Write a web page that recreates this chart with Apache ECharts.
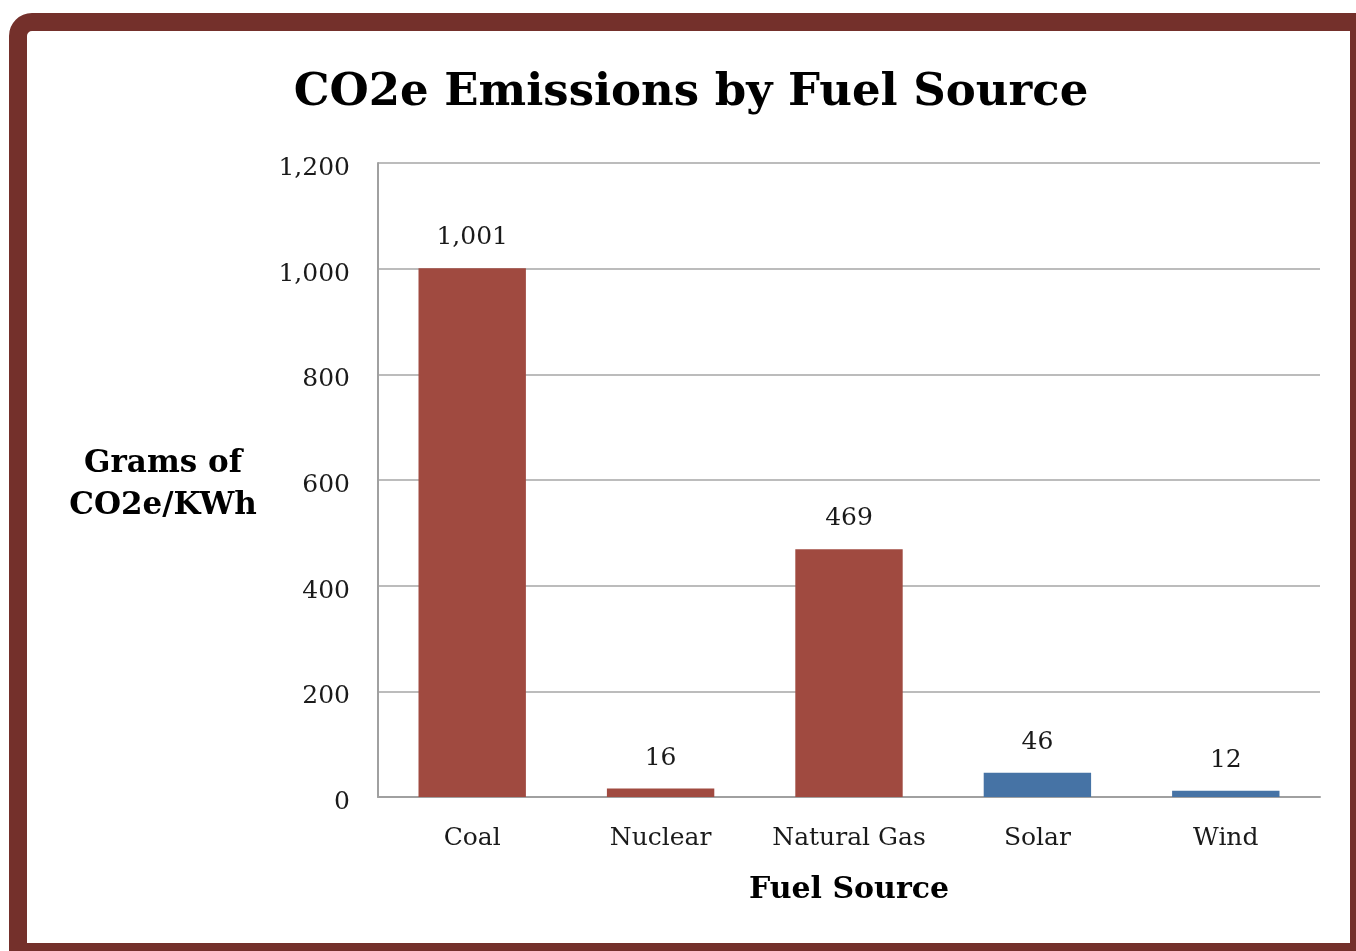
<!DOCTYPE html>
<html>
<head>
<meta charset="utf-8">
<style>
  html, body { margin: 0; padding: 0; background: #ffffff; }
  #chart { width: 1356px; height: 951px; }
</style>
<script src="https://cdn.jsdelivr.net/npm/echarts@6/dist/echarts.min.js"></script>
</head>
<body>
<div id="chart"></div>
<script>
// Emissions per fuel source, grams of CO2e per kWh
const categories = ['Coal', 'Nuclear', 'Natural Gas', 'Solar', 'Wind'];
const emissions = [1001, 16, 469, 46, 12];
const barColors = ['#a04a40', '#a04a40', '#a04a40', '#4673a5', '#4673a5'];
const yTicks = { min: 0, max: 1200, interval: 200 };

const serif = 'DejaVu Serif';
const fmt = v => Number(v).toLocaleString('en-US');

const chart = echarts.init(document.getElementById('chart'));
chart.setOption({
  animation: false,
  backgroundColor: '#ffffff',
  graphic: [{
    type: 'rect',
    shape: { x: 18, y: 22, width: 1341, height: 930, r: [14, 0, 0, 0] },
    style: { fill: 'none', stroke: '#74302b', lineWidth: 18 },
    z: 100
  }],
  title: {
    text: 'CO2e Emissions by Fuel Source',
    left: 686,
    top: 66,
    textAlign: 'center',
    textStyle: { fontFamily: serif, fontWeight: 'bold', fontSize: 45, color: '#000' }
  },
  grid: { left: 378, right: 36, top: 163, bottom: 154 },
  xAxis: {
    type: 'category',
    data: categories,
    name: 'Fuel Source',
    nameLocation: 'middle',
    nameGap: 78,
    nameTextStyle: { fontFamily: serif, fontWeight: 'bold', fontSize: 30, color: '#000' },
    axisLine: { lineStyle: { color: '#a0a0a0', width: 2 } },
    axisTick: { show: false },
    axisLabel: { interval: 0, fontFamily: serif, fontSize: 25, color: '#1a1a1a', margin: 29 }
  },
  yAxis: {
    type: 'value',
    min: yTicks.min,
    max: yTicks.max,
    interval: yTicks.interval,
    // a thin spacer line above the two-line name nudges it slightly down
    name: '{sp| }\n{t|Grams of}\n{t|CO2e/KWh}',
    nameLocation: 'middle',
    nameRotate: 0,
    nameGap: 215,
    nameTextStyle: {
      align: 'center',
      rich: {
        sp: { fontSize: 1, lineHeight: 10 },
        t: { fontFamily: serif, fontWeight: 'bold', fontSize: 31, color: '#000', lineHeight: 42 }
      }
    },
    axisLine: { show: true, lineStyle: { color: '#a0a0a0', width: 2 } },
    axisTick: { show: false },
    splitLine: { lineStyle: { color: '#a6a6a6', width: 1.5 } },
    axisLabel: {
      margin: 28,
      formatter: v => '{v|' + fmt(v) + '}',
      rich: {
        v: { fontFamily: serif, fontSize: 25, color: '#1a1a1a', padding: [11, 0, 0, 0] }
      }
    }
  },
  series: [{
    type: 'bar',
    data: emissions.map((v, i) => ({ value: v, itemStyle: { color: barColors[i] } })),
    barWidth: '57%',
    label: {
      show: true,
      position: 'top',
      distance: 18,
      fontFamily: serif,
      fontSize: 25,
      color: '#1a1a1a',
      formatter: p => fmt(p.value)
    }
  }]
});
</script>
</body>
</html>
